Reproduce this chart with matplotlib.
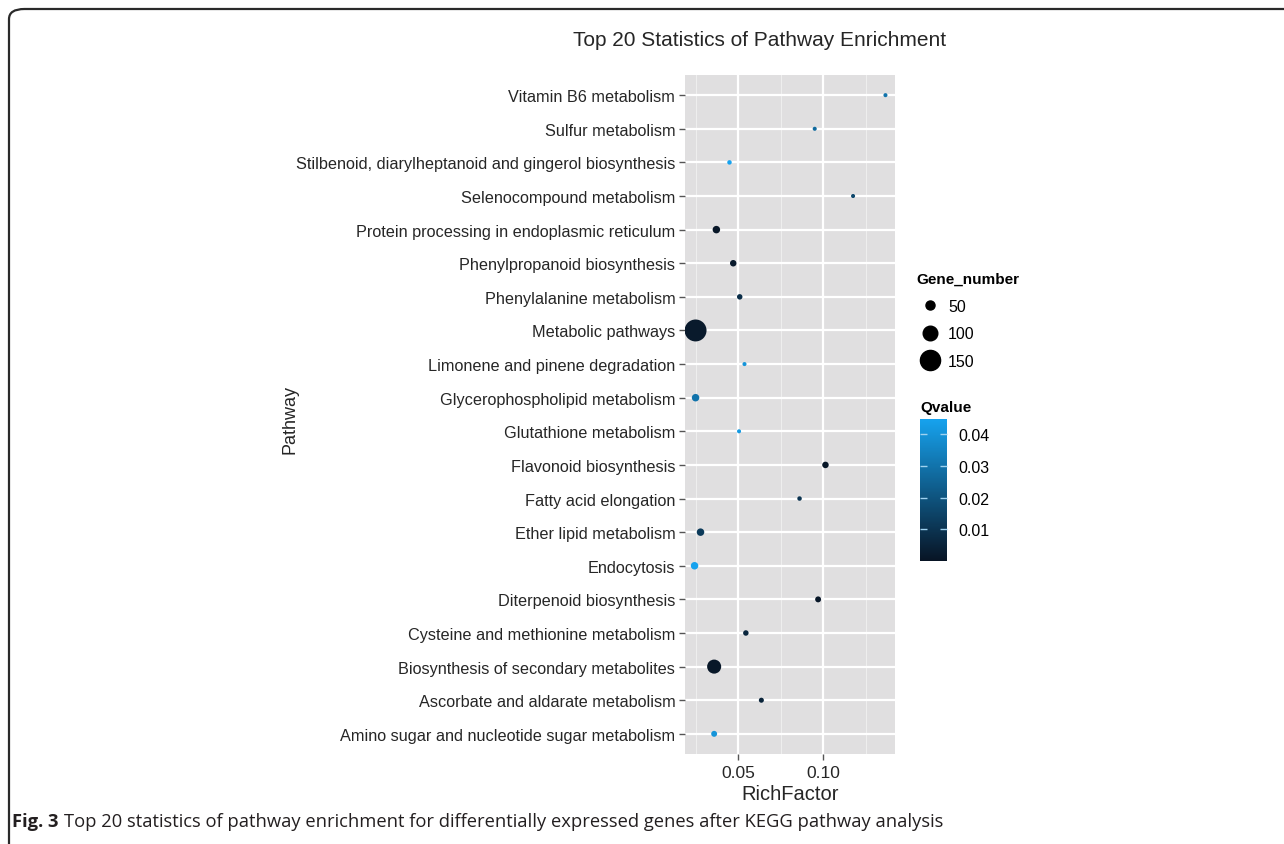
import matplotlib
matplotlib.use("Agg")
import matplotlib.pyplot as plt
import numpy as np
from matplotlib.colors import LinearSegmentedColormap, Normalize
from matplotlib.lines import Line2D
from matplotlib.patches import FancyBboxPatch

plt.rcParams['font.family'] = ['Liberation Sans', 'DejaVu Sans']

# pathways, listed top to bottom as drawn
pathways = [
    "Vitamin B6 metabolism",
    "Sulfur metabolism",
    "Stilbenoid, diarylheptanoid and gingerol biosynthesis",
    "Selenocompound metabolism",
    "Protein processing in endoplasmic reticulum",
    "Phenylpropanoid biosynthesis",
    "Phenylalanine metabolism",
    "Metabolic pathways",
    "Limonene and pinene degradation",
    "Glycerophospholipid metabolism",
    "Glutathione metabolism",
    "Flavonoid biosynthesis",
    "Fatty acid elongation",
    "Ether lipid metabolism",
    "Endocytosis",
    "Diterpenoid biosynthesis",
    "Cysteine and methionine metabolism",
    "Biosynthesis of secondary metabolites",
    "Ascorbate and aldarate metabolism",
    "Amino sugar and nucleotide sugar metabolism",
]
rich_factor = [0.1364, 0.0949, 0.0449, 0.1174, 0.0372, 0.0471, 0.0509, 0.0250,
               0.0537, 0.0250, 0.0505, 0.1012, 0.0860, 0.0279, 0.0244, 0.0969,
               0.0545, 0.0359, 0.0636, 0.0359]
gene_number = [5, 5, 9, 5, 36, 27, 18, 166, 5, 36, 5, 27, 9, 36, 36, 22,
               18, 95, 14, 22]
qvalue = [0.030, 0.027, 0.045, 0.016, 0.001, 0.002, 0.008, 0.002, 0.040, 0.030,
          0.042, 0.001, 0.010, 0.012, 0.045, 0.001, 0.006, 0.001, 0.005, 0.040]
size_breaks = [50, 100, 150]
q_ticks = [0.01, 0.02, 0.03, 0.04]


def marker_area(g):
    # point diameter grows linearly with gene count
    d = 0.72 * (3.5 + np.asarray(g) / 9.0)
    return d ** 2


cmap = LinearSegmentedColormap.from_list("qv", ["#081424", "#16a2ee"])
norm = Normalize(vmin=0.0001, vmax=0.0447)
txt = "#262626"

fig = plt.figure(figsize=(12.84, 8.45), dpi=100)
W, H = 1284, 845
ax = fig.add_axes([685 / W, 1 - 755 / H, 210 / W, 679 / H])
ax.set_facecolor("#E0DFE0")

y = np.arange(len(pathways))[::-1]
ax.scatter(rich_factor, y, s=marker_area(gene_number), c=qvalue, cmap=cmap,
           norm=norm, edgecolors="none", zorder=3)

ax.margins(x=0.05)
ax.set_ylim(-0.6, len(pathways) - 0.4)
ax.set_yticks(y)
ax.set_yticklabels(pathways, fontsize=11.7, color=txt)
ax.set_xticks([0.05, 0.10])
ax.set_xticklabels(["0.05", "0.10"], fontsize=12.5, color=txt)
ax.set_xticks([0.025, 0.075, 0.125], minor=True)
ax.tick_params(axis="both", which="major", length=4, width=1, color="#555555",
               pad=3)
ax.tick_params(axis="x", which="major", pad=4)
ax.tick_params(axis="x", which="minor", length=0)
ax.grid(which="major", color="white", linewidth=1.6, zorder=0)
ax.grid(which="minor", axis="x", color="#EFEFEF", linewidth=0.7, zorder=0)
ax.set_axisbelow(True)
for sp in ax.spines.values():
    sp.set_visible(False)

ax.set_xlabel("RichFactor", fontsize=14.5, labelpad=3, color=txt)
fig.text(290 / W, 1 - 420 / H, "Pathway", rotation=90, fontsize=13,
         ha="center", va="center", color=txt)
fig.text(760 / W, 1 - 40 / H, "Top 20 Statistics of Pathway Enrichment",
         fontsize=15, ha="center", va="center", color=txt)

# size legend
handles = [Line2D([], [], linestyle="none", marker="o", color="black",
                  markersize=np.sqrt(marker_area(b)), label=str(b))
           for b in size_breaks]
leg = fig.legend(handles=handles, title="Gene_number", loc="upper left",
                 bbox_to_anchor=(913 / W, 1 - 270 / H), frameon=False,
                 fontsize=11.5, title_fontproperties={"weight": "bold", "size": 11},
                 alignment="left", handletextpad=0.3, labelspacing=0.78,
                 handlelength=1.7, borderaxespad=0, borderpad=0.2)

# q-value colour bar
cax = fig.add_axes([920 / W, 1 - 562 / H, 27 / W, 142 / H])
cb = fig.colorbar(plt.cm.ScalarMappable(norm=norm, cmap=cmap), cax=cax,
                  ticks=q_ticks)
cb.outline.set_visible(False)
cb.ax.tick_params(direction="in", left=True, right=True, color="#9fd2f0",
                  length=5, width=1, labelsize=11.5, pad=8)
cb.ax.set_yticklabels(["0.01", "0.02", "0.03", "0.04"])
fig.text(920 / W, 1 - 408 / H, "Qvalue", fontsize=11, weight="bold",
         ha="left", va="center")

# caption: bold label followed by the description
cap_font = ["Open Sans", "DejaVu Sans"]
lab = fig.text(12 / W, 1 - 822 / H, "Fig. 3", fontsize=13.2, weight="bold",
               color="#231f20", family=cap_font, va="center")
fig.canvas.draw()
x_end = lab.get_window_extent().x1
fig.text((x_end + 6) / W, 1 - 822 / H,
         "Top 20 statistics of pathway enrichment for differentially expressed "
         "genes after KEGG pathway analysis",
         fontsize=13.2, color="#231f20", family=cap_font, va="center")

# frame around the figure panel
frame = FancyBboxPatch((9 / W, -0.05), 1.2, 1 - 10 / H + 0.05,
                       boxstyle="round,pad=0,rounding_size=0.012",
                       transform=fig.transFigure, fill=False,
                       edgecolor="#2a2a2a", linewidth=1.6)
fig.patches.append(frame)

fig.savefig("out.png", dpi=100)
